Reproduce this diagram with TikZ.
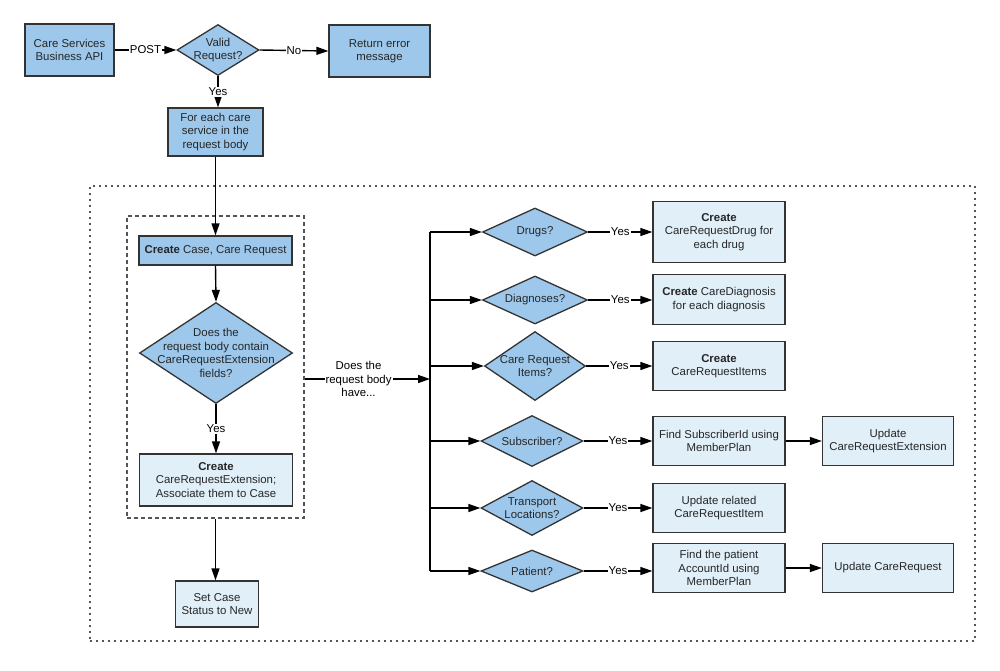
\documentclass[tikz,border=0pt]{standalone}
\usepackage{fontspec}
\setmainfont{Liberation Sans}
\usetikzlibrary{shapes.geometric,arrows.meta}
\definecolor{dk}{HTML}{9DC8EB}
\definecolor{lt}{HTML}{E0EFF8}
\definecolor{edgec}{HTML}{333333}
\definecolor{txtc}{HTML}{262626}
\definecolor{dashc}{HTML}{555555}
\begin{document}
\begin{tikzpicture}[x=1pt,y=-1pt,
  base/.style={draw=edgec, line width=1.3pt, inner sep=2pt, align=center, font=\fontsize{11.4}{13.4}\selectfont, text=txtc},
  boxd/.style={base, rectangle, fill=dk},
  boxl/.style={base, rectangle, fill=lt},
  dec/.style={base, diamond, fill=dk, inner sep=0pt},
  dtxt/.style={align=center, font=\fontsize{11.4}{13.4}\selectfont, text=txtc, inner sep=0pt},
  conn/.style={draw=black, line width=1.4pt, -{Triangle[length=12pt,width=8pt]}},
  plain/.style={draw=black, line width=1.4pt},
  lbl/.style={fill=white, inner sep=1pt, font=\fontsize{11.4}{13.4}\selectfont, text=black, align=center},
  outerbox/.style={draw=dashc, line width=1.3pt, dash pattern=on 2pt off 4pt, rectangle, inner sep=0pt},
  innerbox/.style={draw=dashc, line width=1.3pt, dash pattern=on 4pt off 3pt, rectangle, inner sep=0pt},
]
\useasboundingbox (0,0) rectangle (1000,670);

% containers
\node[outerbox, minimum width=885, minimum height=455] (outer) at (532.5,413.5) {};
\node[innerbox, minimum width=177, minimum height=302] (grp) at (215.5,367) {};

% top row
\node[boxd, minimum width=89, minimum height=52] (api) at (69.5,50) {Care Services\\Business API};
\node[dec, minimum width=82, minimum height=51, label={[dtxt]center:{Valid\\Request?}}] (valid) at (218,50) {};
\node[boxd, minimum width=101, minimum height=52] (err) at (379.5,51) {Return error\\message};
\node[boxd, minimum width=95, minimum height=48] (each) at (215.5,132) {For each care\\service in the\\request body};

% left column
\node[boxd, minimum width=153, minimum height=29] (cc) at (215.5,250.5) {\textbf{Create} Case, Care Request};
\node[dec, minimum width=153, minimum height=101, label={[dtxt]center:{Does the\\request body contain\\CareRequestExtension\\fields?}}] (q2) at (216,353) {};
\node[boxl, minimum width=153, minimum height=52] (cre) at (216,480) {\textbf{Create}\\CareRequestExtension;\\Associate them to Case};
\node[boxl, minimum width=83, minimum height=46] (sc) at (217,604) {Set Case\\Status to New};

% right decisions
\node[dec, minimum width=105, minimum height=48, label={[dtxt]center:{Drugs?}}] (d1) at (535,232) {};
\node[dec, minimum width=105, minimum height=48, label={[dtxt]center:{Diagnoses?}}] (d2) at (535,300) {};
\node[dec, minimum width=101, minimum height=69, label={[dtxt]center:{Care Request\\Items?}}] (d3) at (535,366) {};
\node[dec, minimum width=102, minimum height=51, label={[dtxt]center:{Subscriber?}}] (d4) at (532,441) {};
\node[dec, minimum width=102, minimum height=55, label={[dtxt]center:{Transport\\Locations?}}] (d5) at (532,508) {};
\node[dec, minimum width=102, minimum height=42, label={[dtxt]center:{Patient?}}] (d6) at (532,571) {};

% right boxes
\node[boxl, minimum width=132, minimum height=61] (b1) at (719,232) {\textbf{Create}\\CareRequestDrug for\\each drug};
\node[boxl, minimum width=132, minimum height=50] (b2) at (719,299.5) {\textbf{Create} CareDiagnosis\\for each diagnosis};
\node[boxl, minimum width=132, minimum height=49] (b3) at (719,366) {\textbf{Create}\\CareRequestItems};
\node[boxl, minimum width=132, minimum height=49] (b4) at (719,441) {Find SubscriberId using\\MemberPlan};
\node[boxl, minimum width=132, minimum height=49] (b5) at (719,508) {Update related\\CareRequestItem};
\node[boxl, minimum width=132, minimum height=49] (b6) at (719,568) {Find the patient\\AccountId using\\MemberPlan};
\node[boxl, minimum width=131, minimum height=49] (u4) at (888,441) {Update\\CareRequestExtension};
\node[boxl, minimum width=131, minimum height=49] (u6) at (888,568) {Update CareRequest};

% helper coordinates
\coordinate (tk) at (430,0);
\coordinate (hub) at (430,379);

% top connectors
\draw[conn] (api.east) -- node[lbl] {POST} (valid.west);
\draw[conn] (valid.east) -- node[lbl] {No} (err.west);
\draw[conn] (valid.south) -- node[lbl] {Yes} (valid.south |- each.north);
\draw[conn] (each.south) -- (cc.north);
\draw[conn] (cc.south) -- (q2.north);
\draw[conn] (q2.south) -- node[lbl] {Yes} (cre.north);
\draw[conn] (grp.south) -- (grp.south |- sc.north);

% hub
\draw[conn] (grp.east |- hub) -- node[lbl, pos=0.43] {Does the\\request body\\have...} (hub);
\draw[plain] (d1.west -| tk) -- (d6.west -| tk);
\foreach \d in {d1,d2,d3,d4,d5,d6}{
  \draw[conn] (\d.west -| tk) -- (\d.west);
}
\draw[conn] (d1.east) -- node[lbl] {Yes} (d1.east -| b1.west);
\draw[conn] (d2.east) -- node[lbl] {Yes} (d2.east -| b2.west);
\draw[conn] (d3.east) -- node[lbl] {Yes} (d3.east -| b3.west);
\draw[conn] (d4.east) -- node[lbl] {Yes} (d4.east -| b4.west);
\draw[conn] (d5.east) -- node[lbl] {Yes} (d5.east -| b5.west);
\draw[conn] (d6.east) -- node[lbl] {Yes} (d6.east -| b6.west);
\draw[conn] (b4.east) -- (u4.west);
\draw[conn] (b6.east) -- (u6.west);
\end{tikzpicture}
\end{document}
